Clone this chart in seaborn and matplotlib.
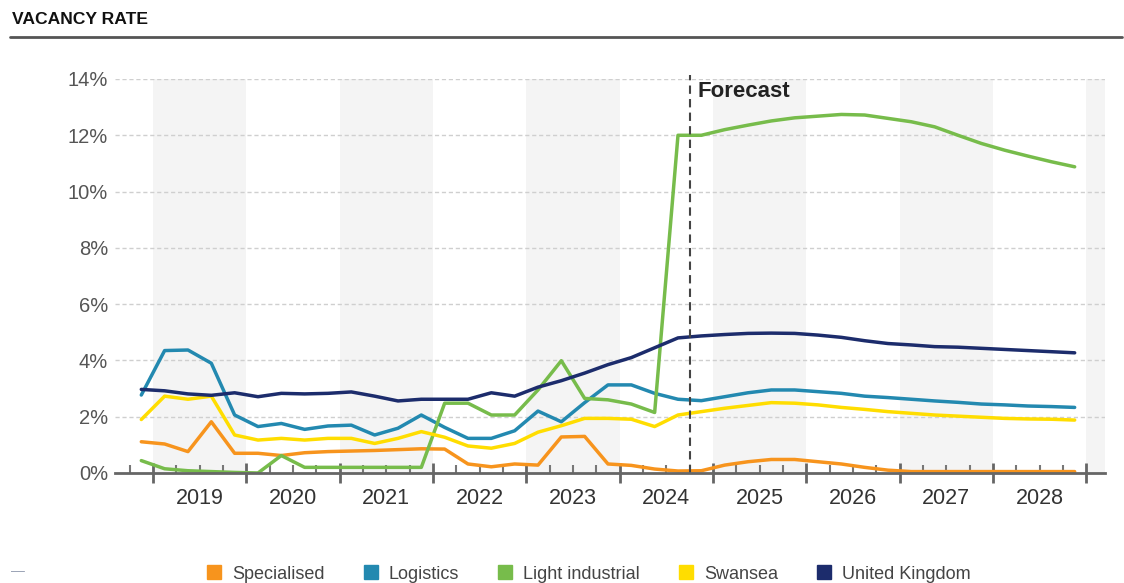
import matplotlib
matplotlib.use("Agg")
import matplotlib.pyplot as plt
from matplotlib.lines import Line2D
from matplotlib.ticker import MultipleLocator, FuncFormatter
import numpy as np
import pandas as pd
import seaborn as sns

# Quarterly series, Q4 2018 .. Q4 2028 (vacancy rate, %)
QUARTERS = [f"{y} Q{q}" for y in range(2018, 2029) for q in range(1, 5)][3:]

SPECIALISED = [1.11, 1.03, 0.76, 1.82, 0.70, 0.70, 0.62, 0.72, 0.76, 0.78,
               0.80, 0.83, 0.86, 0.85, 0.32, 0.22, 0.32, 0.28, 1.28, 1.30,
               0.32, 0.27, 0.14, 0.07, 0.08, 0.28, 0.40, 0.48, 0.48, 0.40,
               0.32, 0.20, 0.10, 0.05, 0.05, 0.05, 0.05, 0.05, 0.05, 0.05, 0.05]
LOGISTICS = [2.77, 4.35, 4.37, 3.90, 2.06, 1.65, 1.76, 1.55, 1.67, 1.70,
             1.35, 1.59, 2.06, 1.62, 1.23, 1.23, 1.50, 2.20, 1.82, 2.50,
             3.13, 3.13, 2.83, 2.62, 2.57, 2.71, 2.85, 2.95, 2.95, 2.89,
             2.83, 2.73, 2.68, 2.62, 2.56, 2.51, 2.45, 2.42, 2.38, 2.36, 2.33]
LIGHT_INDUSTRIAL = [0.44, 0.15, 0.08, 0.05, 0.02, 0.00, 0.62, 0.20, 0.20, 0.20,
                    0.20, 0.20, 0.20, 2.48, 2.48, 2.06, 2.06, 2.95, 3.99, 2.65,
                    2.60, 2.45, 2.15, 12.00, 12.00, 12.20, 12.36, 12.51, 12.62, 12.68,
                    12.74, 12.72, 12.60, 12.48, 12.30, 12.00, 11.71, 11.47, 11.26, 11.06, 10.88]
SWANSEA = [1.90, 2.73, 2.62, 2.73, 1.35, 1.17, 1.23, 1.17, 1.23, 1.23,
           1.05, 1.23, 1.47, 1.27, 0.96, 0.88, 1.05, 1.45, 1.68, 1.94,
           1.94, 1.91, 1.65, 2.06, 2.18, 2.30, 2.40, 2.50, 2.48, 2.42,
           2.33, 2.26, 2.18, 2.12, 2.06, 2.02, 1.98, 1.94, 1.92, 1.91, 1.88]
UNITED_KINGDOM = [2.97, 2.92, 2.81, 2.76, 2.85, 2.71, 2.83, 2.81, 2.83, 2.88,
                  2.73, 2.56, 2.62, 2.62, 2.62, 2.85, 2.73, 3.05, 3.28, 3.55,
                  3.85, 4.10, 4.45, 4.80, 4.87, 4.92, 4.96, 4.97, 4.96, 4.90,
                  4.82, 4.70, 4.60, 4.55, 4.49, 4.47, 4.43, 4.39, 4.35, 4.31, 4.27]

SERIES = ["Specialised", "Logistics", "Light industrial", "Swansea", "United Kingdom"]
COLORS = ["#F7941D", "#2389B0", "#77BC4B", "#FFDD00", "#1C2C6C"]
YEARS = list(range(2019, 2029))
FORECAST_START = "2024 Q4"


def quarter_to_pos(label):
    """Quarter label -> decimal year at the middle of the quarter."""
    year, q = label.split(" Q")
    return int(year) + (int(q) - 0.5) / 4


def build_frame():
    values = [SPECIALISED, LOGISTICS, LIGHT_INDUSTRIAL, SWANSEA, UNITED_KINGDOM]
    rows = []
    for name, vals in zip(SERIES, values):
        for quarter, v in zip(QUARTERS, vals):
            rows.append({"quarter": quarter, "x": quarter_to_pos(quarter),
                         "series": name, "rate": v})
    return pd.DataFrame(rows)


def main():
    df = build_frame()

    sns.set_theme(style="white")
    plt.rcParams["font.family"] = ["Liberation Sans", "DejaVu Sans"]

    fig = plt.figure(figsize=(11.24, 5.83), dpi=100)
    ax = fig.add_axes([0.1023, 0.1887, 0.8808, 0.6758])

    # alternating year bands
    for year in YEARS[::2] + [2029]:
        ax.axvspan(year, year + 1, color="#F4F4F4", zorder=0, lw=0)

    for y in range(2, 15, 2):
        ax.axhline(y, color="#CFCFCF", lw=1, ls=(0, (3, 2)), zorder=1)

    sns.lineplot(data=df, x="x", y="rate", hue="series", hue_order=SERIES,
                 palette=COLORS, linewidth=2.5, legend=False, ax=ax, zorder=3)

    # forecast marker
    fx = quarter_to_pos(FORECAST_START) - 0.125
    ax.axvline(fx, ymin=0, ymax=1.01, color="#444444", lw=1.5,
               ls=(0, (4, 2.5)), zorder=4, clip_on=False)
    ax.annotate("Forecast", (fx, 13.57), xytext=(6, 0), textcoords="offset points",
                ha="left", va="center", fontsize=16, fontweight="bold", color="#222222")

    ax.set_xlim(2018.593, 2029.2)
    ax.set_ylim(0, 14)
    ax.set_xlabel("")
    ax.set_ylabel("")

    ax.yaxis.set_major_locator(MultipleLocator(2))
    ax.yaxis.set_major_formatter(FuncFormatter(lambda v, _: f"{v:.0f}%"))
    ax.tick_params(axis="y", length=0, pad=5, labelsize=14.5, labelcolor="#555555")

    ax.set_xticks(YEARS + [2029])
    ax.set_xticklabels([])
    ax.xaxis.set_minor_locator(MultipleLocator(0.25))
    ax.tick_params(axis="x", which="major", direction="inout", length=15, width=2,
                   color="#666666", bottom=True)
    ax.tick_params(axis="x", which="minor", direction="in", length=6, width=1.5,
                   color="#777777", bottom=True)

    for side in ["top", "right", "left"]:
        ax.spines[side].set_visible(False)
    ax.spines["bottom"].set_color("#666666")
    ax.spines["bottom"].set_linewidth(2)
    ax.spines["bottom"].set_zorder(5)

    # year labels centred in each year
    sec = ax.secondary_xaxis("bottom")
    sec.set_xticks([y + 0.5 for y in YEARS])
    sec.set_xticklabels([str(y) for y in YEARS])
    sec.tick_params(length=0, pad=11, labelsize=15.5, labelcolor="#333333")
    sec.spines["bottom"].set_visible(False)

    # title and rule
    fig.text(0.0107, 1 - 20 / 583, "VACANCY RATE", fontsize=12.6, fontweight="bold",
             color="#111111", ha="left", va="center")
    fig.add_artist(Line2D([10 / 1124, 1122 / 1124], [1 - 37 / 583] * 2,
                          color="#555555", lw=2))
    fig.text(0.016, 1 - 571 / 583, "\u2014", fontsize=10, color="#9AA3B5",
             ha="center", va="center")

    handles = [Line2D([], [], marker="s", linestyle="", markersize=10, color=c)
               for c in COLORS]
    fig.legend(handles, SERIES, loc="center", bbox_to_anchor=(0.523, 0.015),
               ncol=5, frameon=False, fontsize=13, labelcolor="#444444",
               handlelength=1.0, handletextpad=0.5, columnspacing=2.05)

    fig.savefig("out.png", dpi=100)


if __name__ == "__main__":
    main()
